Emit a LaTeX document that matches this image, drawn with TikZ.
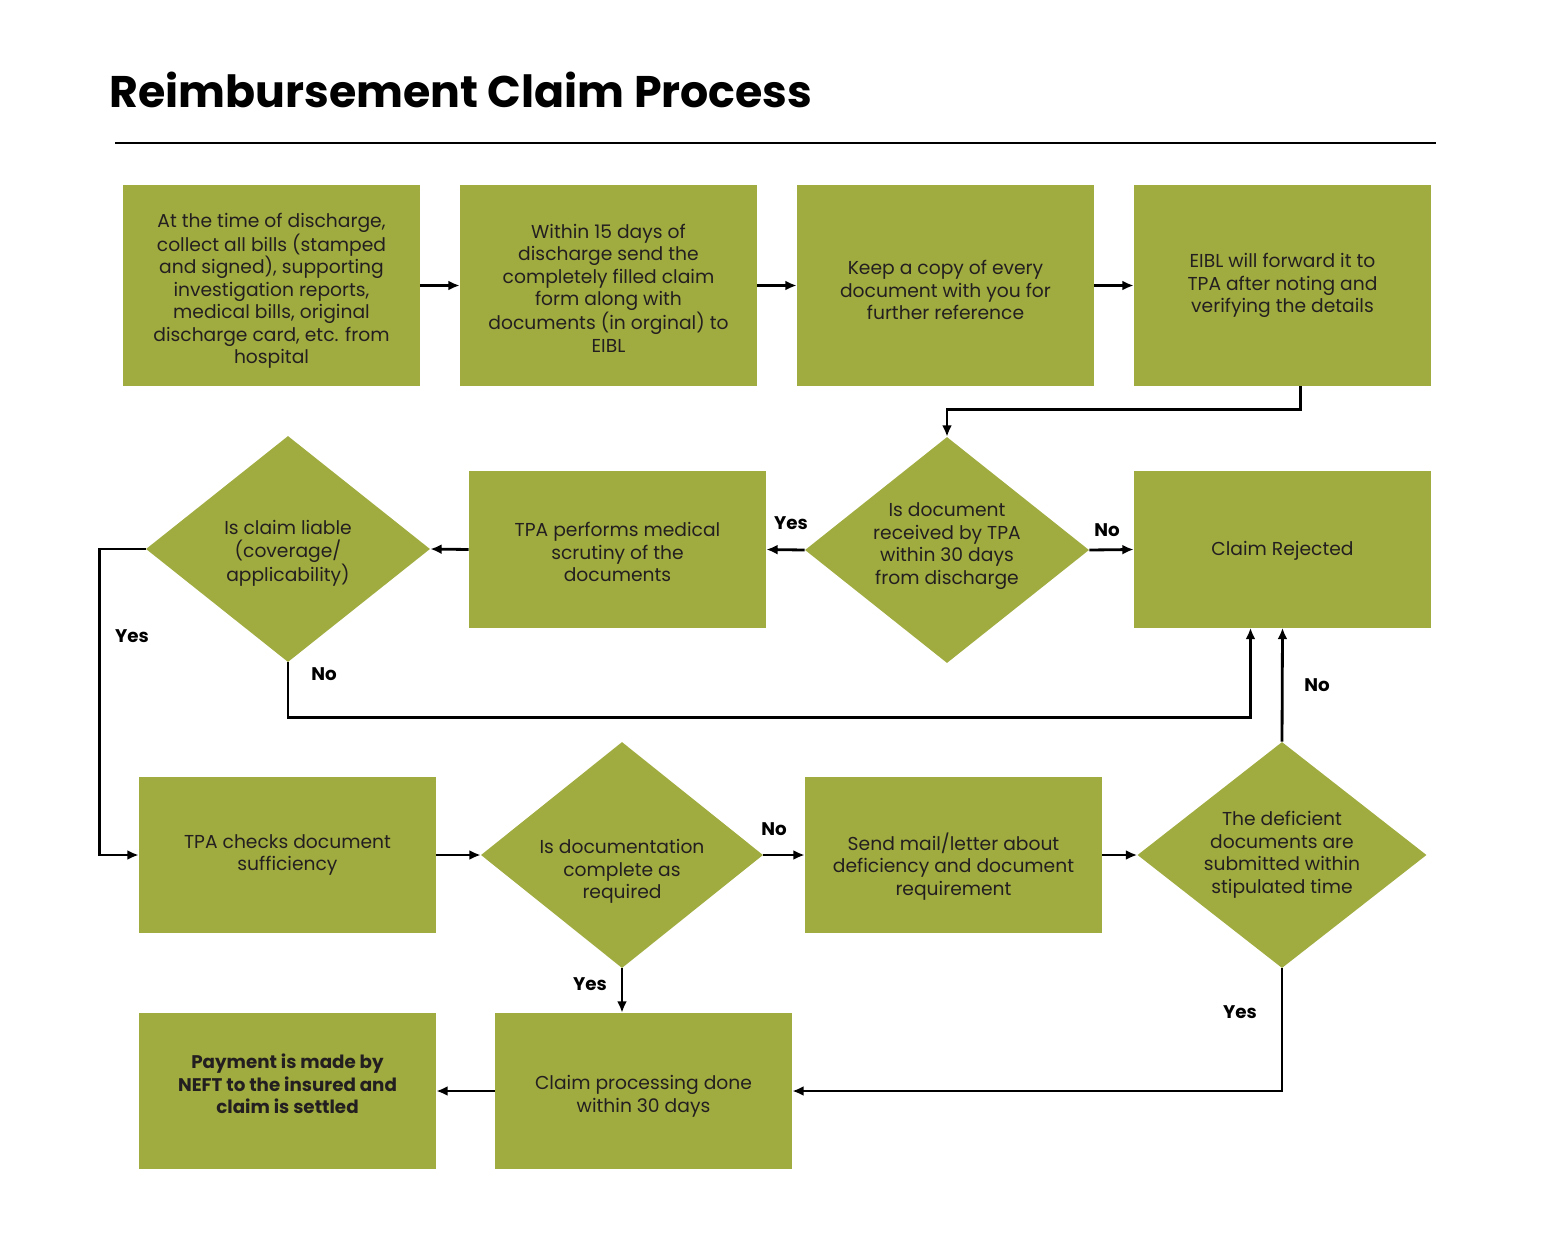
\documentclass[tikz,border=0pt]{standalone}
\usepackage{fontspec}
\setmainfont{Poppins}
\usetikzlibrary{shapes.geometric,arrows.meta}
\definecolor{claimgreen}{HTML}{A1AC40}
\definecolor{inkgray}{HTML}{231F20}

\begin{document}
\begin{tikzpicture}[x=0.025cm,y=-0.025cm,
    stepbox/.style={rectangle,fill=claimgreen,inner sep=0pt,align=center,
        text=inkgray,font=\fontsize{13.3}{16}\selectfont,
        minimum width=7.425cm,minimum height=3.9cm},
    tallbox/.style={stepbox,minimum height=5.025cm},
    choice/.style={diamond,fill=claimgreen,inner sep=0pt,aspect=1.27,align=center,
        text=inkgray,font=\fontsize{13.3}{16}\selectfont,
        minimum width=7.1cm,minimum height=5.65cm},
    answer/.style={font=\bfseries\fontsize{13}{16}\selectfont,inner sep=0pt},
    flow/.style={-{Latex[length=8pt,width=7pt]},line width=2pt}]
    \useasboundingbox (0,0) rectangle (1551,1250);

    % title
    \node[anchor=base west,inner sep=0pt,font=\bfseries\fontsize{31.5}{36}\selectfont] (title) at (109,107) {Reimbursement Claim Process};
    \draw[line width=2pt] (115,143) -- (1436,143);

    % row 1
    \node[tallbox] (collect) at (271.5,285.5) {At the time of discharge,\\collect all bills (stamped\\and signed), supporting\\investigation reports,\\medical bills, original\\discharge card, etc. from\\hospital\\[-19.9pt]};
    \node[tallbox] (send) at (608.5,285.5) {Within 15 days of\\discharge send the\\completely filled claim\\form along with\\documents (in orginal) to\\EIBL\\[-19.9pt]};
    \node[tallbox] (copy) at (945.5,285.5) {Keep a copy of every\\document with you for\\further reference\\[-22.7pt]};
    \node[tallbox] (eibl) at (1282.5,285.5) {EIBL will forward it to\\TPA after noting and\\verifying the details};

    % row 2
    \node[choice] (recv) at (947,550) {Is document\\received by TPA\\within 30 days\\from discharge\\[-7pt]};
    \node[stepbox] (scrutiny) at (617.5,549.5) {TPA performs medical\\scrutiny of the\\documents\\[-19.9pt]};
    \node[choice,minimum width=7.1cm] (liable) at (288,549) {Is claim liable\\(coverage/\\applicability)\\[-18.4pt]};
    \node[stepbox] (rejected) at (1282.5,549.5) {Claim Rejected\\[-14.2pt]};

    % row 3
    \node[stepbox] (check) at (287.5,855) {TPA checks document\\sufficiency};
    \node[choice,minimum width=7.05cm] (doc) at (622,855) {Is documentation\\complete as\\required\\[-35.8pt]};
    \node[stepbox] (mail) at (953.5,855) {Send mail/letter about\\deficiency and document\\requirement\\[-28.4pt]};
    \node[choice,minimum width=7.225cm] (deficient) at (1282,855) {The deficient\\documents are\\submitted within\\stipulated time};

    % row 4
    \node[stepbox] (process) at (643.5,1091) {Claim processing done\\within 30 days\\[-19.8pt]};
    \node[stepbox,font=\bfseries\fontsize{13}{16}\selectfont] (payment) at (287.5,1091) {Payment is made by\\NEFT to the insured and\\claim is settled\\[-5.7pt]};

    % connectors
    \path [flow] (collect) edge (send);
    \path [flow] (send) edge (copy);
    \path [flow] (copy) edge (eibl);
    \draw [flow] ([xshift=0.45cm]eibl.south) -- ++(0,23) -| (recv.north);
    \draw [flow] (recv.west) -- (scrutiny.east);
    \draw [flow] (recv.east) -- (rejected.west);
    \draw [flow] (scrutiny.west) -- (liable.east);
    \draw [flow] (liable.west) -- ++(-46,0) |- (check.west);
    \draw [flow] (liable.south) -- ++(0,55) -| ([xshift=-0.8cm]rejected.south);
    \draw [flow] (check.east) -- (doc.west);
    \draw [flow] (doc.east) -- (mail.west);
    \draw [flow] (mail.east) -- (deficient.west);
    \draw [flow] (deficient.north) -- (rejected.south);
    \draw [flow] (deficient.south) |- (process.east);
    \draw [flow] (doc.south) -- (doc.south |- process.north);
    \draw [flow] (process.west) -- (payment.east);

    % answers
    \node[answer] (yesRecv) at (791,523) {Yes};
    \node[answer] (noRecv) at (1107,530) {No};
    \node[answer] (yesLiable) at (132,636) {Yes};
    \node[answer] (noLiable) at (324,674) {No};
    \node[answer] (noDoc) at (774,829) {No};
    \node[answer] (yesDoc) at (590,984) {Yes};
    \node[answer] (noDeficient) at (1317,685) {No};
    \node[answer] (yesDeficient) at (1240,1012) {Yes};
\end{tikzpicture}
\end{document}
